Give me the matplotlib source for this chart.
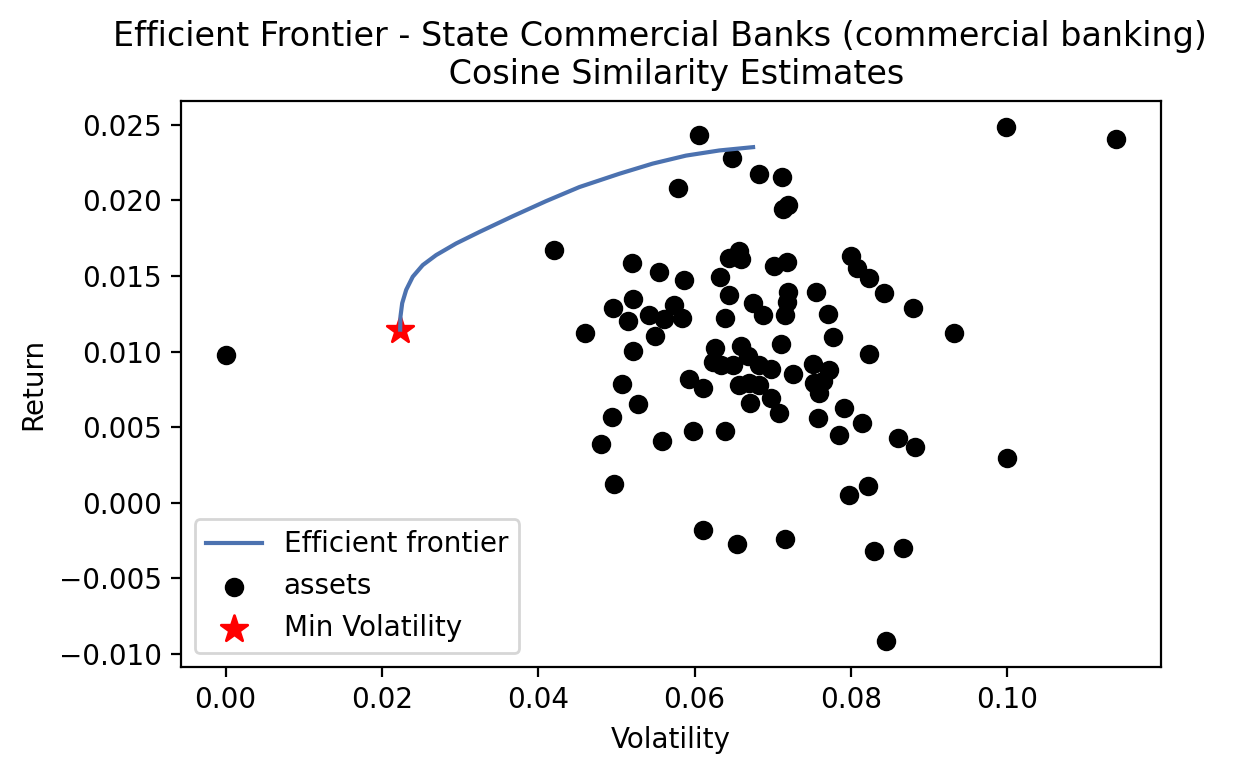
import matplotlib
matplotlib.use("Agg")
import matplotlib.pyplot as plt
import numpy as np

# efficient frontier (volatility, return)
ef_vol = [0.02234, 0.02238, 0.02260, 0.02311, 0.02395, 0.02523, 0.02694,
          0.02950, 0.03248, 0.03674, 0.04101, 0.04527, 0.05038, 0.05464,
          0.05891, 0.06317, 0.06749]
ef_ret = [0.01145, 0.01232, 0.01320, 0.01408, 0.01495, 0.01572, 0.01638,
          0.01715, 0.01791, 0.01895, 0.01995, 0.02088, 0.02176, 0.02243,
          0.02296, 0.02330, 0.02352]

# assets
asset_vol = [0.06061, 0.06474, 0.05784, 0.06829, 0.07114, 0.07127, 0.07191,
             0.04207, 0.05196, 0.05541, 0.05861, 0.06564, 0.06436, 0.06595,
             0.06326, 0.07012, 0.07178, 0.06445, 0.06743, 0.06871, 0.04953,
             0.05208, 0.05145, 0.05413, 0.05614, 0.05733, 0.05840, 0.05499,
             0.06390, 0.04604, 0.08001, 0.08078, 0.08235, 0.08427, 0.08789,
             0.09322, 0.07554, 0.07191, 0.07178, 0.07161, 0.07711, 0.07766,
             0.07106, 0.08226, 0.07510, 0.07724, 0.07254, 0.07532, 0.07638,
             0.07587, 0.07084, 0.07907, 0.07574, 0.08137, 0.07843, 0.05217,
             0.06266, 0.06595, 0.06679, 0.06231, 0.06339, 0.06487, 0.06829,
             0.06978, 0.05925, 0.06104, 0.06573, 0.06701, 0.06829, 0.06978,
             0.06714, 0.05068, 0.05272, 0.04940, 0.04804, 0.05584, 0.05976,
             0.06394, 0.04966, 0.07971, 0.08214, 0.06113, 0.06538, 0.07161,
             0.08606, 0.08820, 0.10004, 0.08299, 0.08661, 0.08449, 0.09991,
             0.11398, 0.0]
asset_ret = [0.02434, 0.02281, 0.02084, 0.02176, 0.02153, 0.01945, 0.01967,
             0.01671, 0.01584, 0.01524, 0.01474, 0.01666, 0.01616, 0.01610,
             0.01491, 0.01566, 0.01590, 0.01373, 0.01320, 0.01239, 0.01288,
             0.01349, 0.01204, 0.01243, 0.01215, 0.01309, 0.01222, 0.01101,
             0.01222, 0.01123, 0.01634, 0.01551, 0.01485, 0.01386, 0.01288,
             0.01123, 0.01393, 0.01393, 0.01331, 0.01243, 0.01250, 0.01097,
             0.01053, 0.00987, 0.00921, 0.00877, 0.00849, 0.00794, 0.00805,
             0.00728, 0.00592, 0.00625, 0.00559, 0.00526, 0.00447, 0.01007,
             0.01024, 0.01039, 0.00969, 0.00932, 0.00910, 0.00910, 0.00914,
             0.00882, 0.00820, 0.00761, 0.00776, 0.00789, 0.00776, 0.00695,
             0.00658, 0.00783, 0.00651, 0.00564, 0.00388, 0.00410, 0.00476,
             0.00476, 0.00123, 0.00053, 0.00110, -0.00178, -0.00270, -0.00237,
             0.00428, 0.00366, 0.00294, -0.00318, -0.00296, -0.00916, 0.02487,
             0.02406, 0.00980]

min_vol = 0.02234
min_ret = 0.01145

fig = plt.figure(figsize=(6.215, 3.875), dpi=200)
ax = fig.add_axes([181/1243, 108/775, 980/1243, 566/775])
ax.plot(ef_vol, ef_ret, color="#4c72b0", label="Efficient frontier")
ax.scatter(asset_vol, asset_ret, color="k", label="assets")
ax.scatter([min_vol], [min_ret], marker="*", s=100, color="r", label="Min Volatility")
ax.set_title("Efficient Frontier - State Commercial Banks (commercial banking)  \n Cosine Similarity Estimates")
ax.set_xlabel("Volatility")
ax.set_ylabel("Return")
ax.legend(loc="lower left")
fig.savefig("out.png", dpi=200)
